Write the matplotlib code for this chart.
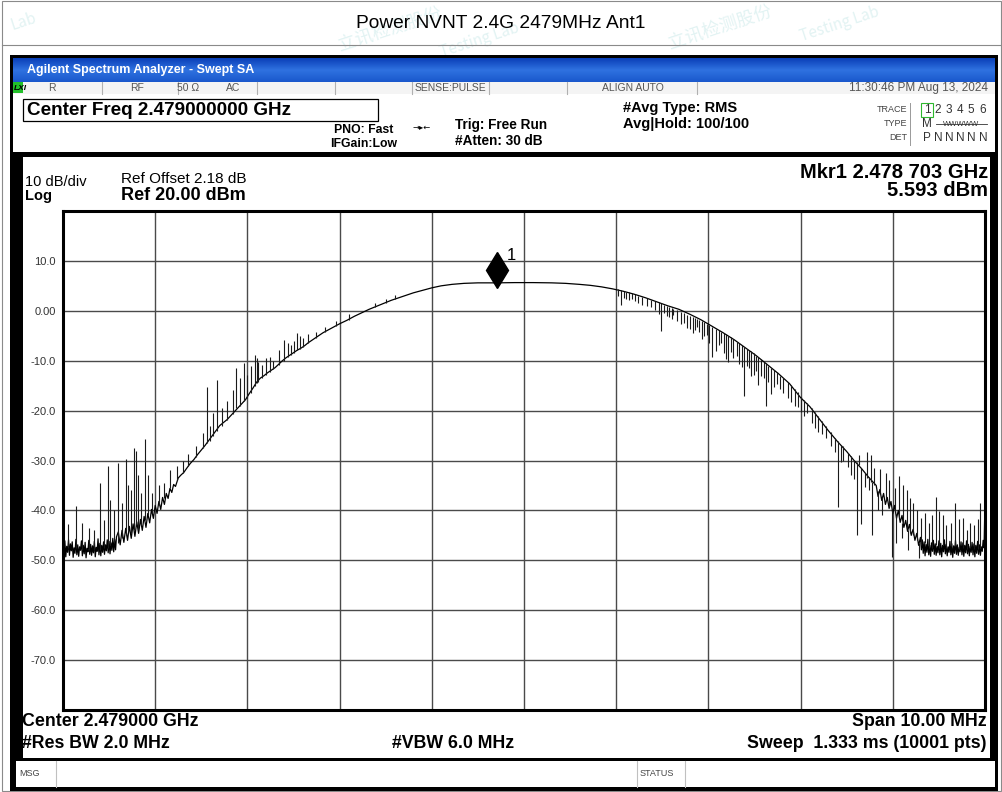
import numpy as np
import matplotlib.pyplot as plt
from matplotlib.patches import Rectangle
from matplotlib import transforms

# ---- data (offset from 2.479 GHz in MHz, level in dBm)
floor_left_f = [-5.00, -4.99, -4.98, -4.97, -4.96, -4.95, -4.94, -4.93, -4.92, -4.91,
                -4.90, -4.89, -4.88, -4.87, -4.86, -4.85, -4.84, -4.83, -4.82, -4.81,
                -4.80, -4.79, -4.78, -4.77, -4.76, -4.75, -4.74, -4.73, -4.72, -4.71,
                -4.70, -4.69, -4.68, -4.67, -4.66, -4.65, -4.64, -4.63, -4.62, -4.61,
                -4.60, -4.59, -4.58, -4.57, -4.56, -4.55, -4.54, -4.53, -4.52, -4.51,
                -4.50, -4.49, -4.48, -4.47, -4.46, -4.45, -4.44, -4.43, -4.42]
floor_left_db = [-46.8, -48.9, -46.1, -49.3, -47.2, -48.4, -45.9, -49.0, -46.7, -48.1,
                 -46.3, -49.4, -47.5, -48.6, -45.8, -48.9, -46.9, -49.2, -47.3, -48.0,
                 -46.1, -49.1, -47.0, -48.7, -46.4, -49.5, -47.6, -48.3, -46.0, -48.8,
                 -46.8, -49.0, -47.1, -48.5, -46.2, -49.3, -47.4, -48.2, -45.7, -48.9,
                 -46.6, -49.1, -47.0, -48.4, -46.3, -48.8, -46.9, -48.1, -45.9, -48.5,
                 -46.2, -48.7, -46.5, -48.0, -45.6, -48.3, -45.8, -47.9, -45.3]

slope_left_f = [-4.40, -4.38, -4.36, -4.34, -4.32, -4.30, -4.28, -4.26, -4.24, -4.22,
                -4.20, -4.18, -4.16, -4.14, -4.12, -4.10, -4.08, -4.06, -4.04, -4.02,
                -4.00, -3.98, -3.96, -3.94, -3.92, -3.90, -3.88, -3.86, -3.84, -3.82,
                -3.80, -3.78, -3.75, -3.72, -3.69, -3.66, -3.62, -3.58, -3.54, -3.50,
                -3.46, -3.42, -3.38, -3.34, -3.30, -3.26, -3.22, -3.18, -3.14, -3.10,
                -3.06, -3.02, -2.98, -2.94, -2.90, -2.86, -2.82, -2.78, -2.74, -2.70,
                -2.66, -2.62, -2.58, -2.54, -2.50, -2.46, -2.42, -2.38, -2.34, -2.30,
                -2.26, -2.22, -2.18, -2.12, -2.06, -2.00, -1.92, -1.84, -1.76, -1.68,
                -1.60, -1.52, -1.44, -1.36, -1.28, -1.20, -1.10, -1.00, -0.90, -0.78,
                -0.65, -0.50]
slope_left_db = [-44.3, -46.9, -44.0, -46.4, -43.6, -46.0, -43.2, -45.6, -42.7, -45.2,
                 -42.3, -44.6, -41.8, -44.0, -41.2, -43.4, -40.6, -42.5, -39.8, -41.6,
                 -39.0, -40.6, -38.2, -39.8, -37.4, -38.8, -36.6, -37.6, -35.6, -36.4,
                 -34.8, -35.2, -33.5, -32.9, -32.4, -31.6, -30.6, -29.8, -28.8, -27.9,
                 -27.0, -26.0, -25.0, -24.0, -23.0, -22.4, -21.8, -21.0, -20.2, -19.4,
                 -18.6, -17.8, -16.6, -15.5, -14.3, -13.5, -13.0, -12.4, -11.9, -11.4,
                 -10.7, -10.0, -9.4, -8.9, -8.4, -7.9, -7.5, -7.0, -6.4, -5.9,
                 -5.4, -4.9, -4.4, -3.8, -3.2, -2.6, -1.9, -1.1, -0.4, 0.3,
                 0.9, 1.5, 2.1, 2.6, 3.1, 3.6, 4.1, 4.6, 5.0, 5.3,
                 5.5, 5.6]

slope_right_f = [-0.30, -0.10, 0.10, 0.30, 0.45, 0.60, 0.72, 0.84, 0.96, 1.08,
                 1.20, 1.32, 1.44, 1.56, 1.68, 1.80, 1.92, 2.04, 2.16, 2.28,
                 2.40, 2.52, 2.64, 2.76, 2.88, 3.00, 3.10, 3.20, 3.30, 3.40,
                 3.50, 3.58, 3.66, 3.74, 3.80, 3.82, 3.84, 3.86, 3.88, 3.90,
                 3.92, 3.94, 3.96, 3.98, 4.00, 4.02, 4.04, 4.06, 4.08, 4.10,
                 4.12, 4.14, 4.16, 4.18, 4.20, 4.22, 4.24, 4.26, 4.28, 4.30]
slope_right_db = [5.6, 5.65, 5.65, 5.6, 5.5, 5.3, 5.1, 4.8, 4.4, 3.9,
                  3.3, 2.6, 1.8, 1.0, 0.3, -0.7, -1.8, -3.1, -4.4, -5.8,
                  -7.4, -9.0, -10.8, -12.6, -14.6, -17.4, -19.2, -21.6, -24.0, -26.2,
                  -28.2, -30.0, -31.6, -33.4, -34.6, -35.0, -37.2, -35.8, -38.0, -36.6,
                  -38.8, -37.4, -39.6, -38.2, -40.6, -39.0, -41.6, -40.0, -42.4, -41.0,
                  -43.4, -42.0, -44.2, -42.8, -45.0, -43.8, -46.0, -44.6, -47.0, -45.4]

floor_right_f = [4.31, 4.32, 4.33, 4.34, 4.35, 4.36, 4.37, 4.38, 4.39, 4.40,
                 4.41, 4.42, 4.43, 4.44, 4.45, 4.46, 4.47, 4.48, 4.49, 4.50,
                 4.51, 4.52, 4.53, 4.54, 4.55, 4.56, 4.57, 4.58, 4.59, 4.60,
                 4.61, 4.62, 4.63, 4.64, 4.65, 4.66, 4.67, 4.68, 4.69, 4.70,
                 4.71, 4.72, 4.73, 4.74, 4.75, 4.76, 4.77, 4.78, 4.79, 4.80,
                 4.81, 4.82, 4.83, 4.84, 4.85, 4.86, 4.87, 4.88, 4.89, 4.90,
                 4.91, 4.92, 4.93, 4.94, 4.95, 4.96, 4.97, 4.98, 4.99, 5.00]
floor_right_db = [-47.9, -45.9, -48.6, -46.3, -49.1, -46.8, -48.4, -45.8, -48.9, -47.0,
                  -49.2, -46.5, -48.2, -46.0, -48.8, -46.7, -49.0, -47.2, -48.5, -46.1,
                  -48.9, -46.6, -49.3, -47.0, -48.3, -45.9, -48.7, -46.8, -49.1, -47.3,
                  -48.4, -46.2, -48.9, -46.7, -49.4, -47.1, -48.6, -46.0, -48.8, -46.9,
                  -49.0, -47.4, -48.3, -46.3, -48.9, -46.5, -49.2, -47.0, -48.5, -46.1,
                  -48.7, -46.8, -49.1, -47.2, -48.4, -46.4, -48.9, -46.7, -49.3, -47.0,
                  -48.6, -46.2, -48.8, -46.9, -49.0, -47.3, -48.2, -46.0, -47.5, -38.0]

# spikes: position, level at the trace, level at the tip
spike_f = [-4.95, -4.86, -4.79, -4.72, -4.66, -4.60, -4.56, -4.51, -4.49, -4.45,
           -4.40, -4.36, -4.32, -4.29, -4.26, -4.23, -4.21, -4.19, -4.15, -4.11,
           -4.08, -4.03, -3.96, -3.90, -3.84, -3.76, -3.70, -3.64, -3.56, -3.48,
           -3.44, -3.41, -3.37, -3.33, -3.28, -3.22, -3.16, -3.12, -3.08, -3.04,
           -3.00, -2.96, -2.92, -2.90, -2.88, -2.84, -2.80, -2.76, -2.72, -2.66,
           -2.60, -2.56, -2.53, -2.50, -2.46, -2.43, -2.40, -2.34, -2.26, -2.16,
           -2.04, -1.90, -1.62, -1.50, -1.40,
           1.02, 1.05, 1.08, 1.11, 1.14, 1.17, 1.20, 1.24, 1.28, 1.33,
           1.38, 1.42, 1.46, 1.49, 1.52, 1.55, 1.57, 1.60, 1.62, 1.66,
           1.70, 1.74, 1.77, 1.80, 1.83, 1.85, 1.88, 1.90, 1.93, 1.95,
           1.98, 2.01, 2.04, 2.08, 2.11, 2.14, 2.17, 2.19, 2.21, 2.24,
           2.27, 2.31, 2.33, 2.36, 2.39, 2.42, 2.44, 2.46, 2.49, 2.52,
           2.54, 2.57, 2.60, 2.62, 2.65, 2.68, 2.71, 2.74, 2.78, 2.81,
           2.86, 2.90, 2.94, 2.97, 3.00, 3.04, 3.07, 3.12, 3.16, 3.19,
           3.23, 3.28, 3.33, 3.37, 3.41, 3.44, 3.46, 3.51, 3.55, 3.58,
           3.61, 3.66, 3.70, 3.74, 3.77, 3.84, 3.88, 3.99, 4.04, 4.10,
           4.17, 4.28,
           3.63, 3.72, 3.76, 3.80, 3.86, 3.93, 3.96, 4.02, 4.07, 4.11,
           4.15, 4.19, 4.22, 4.26, 4.31, 4.35, 4.39, 4.43, 4.47, 4.50,
           4.54, 4.58, 4.63, 4.68, 4.72, 4.76, 4.80, 4.84, 4.88, 4.92,
           4.95]
spike_base = [-47.5, -47.5, -48.0, -48.0, -48.0, -48.0, -47.5, -47.5, -47.0, -46.5,
              -46.5, -45.5, -45.0, -44.0, -44.5, -44.0, -43.0, -44.0, -43.0, -42.0,
              -41.0, -40.5, -39.0, -37.5, -35.6, -34.0, -32.5, -31.2, -29.3, -27.5,
              -26.5, -26.0, -25.0, -24.0, -23.0, -21.8, -20.6, -19.5, -19.0, -18.0,
              -17.4, -16.4, -15.0, -14.5, -14.2, -13.4, -12.8, -12.2, -11.7, -10.8,
              -10.0, -9.2, -8.9, -8.4, -7.9, -7.6, -7.3, -6.4, -5.4, -4.3,
              -3.0, -1.8, 0.7, 1.6, 2.3,
              4.4, 4.2, 3.9, 3.8, 3.7, 3.5, 3.3, 3.0, 2.8, 2.5,
              2.2, 1.9, 1.7, 1.5, 1.2, 0.9, 0.8, 0.6, 0.4, 0.1,
              -0.2, -0.5, -0.8, -1.0, -1.2, -1.4, -1.6, -1.8, -2.1, -2.3,
              -2.6, -2.9, -3.2, -3.6, -3.9, -4.2, -4.5, -4.7, -5.0, -5.3,
              -5.7, -6.2, -6.5, -6.8, -7.2, -7.6, -7.8, -8.1, -8.5, -9.0,
              -9.3, -9.6, -10.2, -10.5, -11.0, -11.4, -11.9, -12.3, -13.0, -13.4,
              -14.2, -14.9, -15.6, -16.2, -17.2, -17.8, -18.4, -19.5, -20.3, -21.0,
              -22.0, -23.0, -24.2, -25.4, -26.0, -26.8, -27.0, -28.4, -29.0, -30.0,
              -30.4, -31.6, -32.6, -33.4, -34.4, -36.2, -37.4, -40.0, -41.0, -42.5,
              -44.0, -46.5,
              -31.0, -33.5, -34.3, -35.0, -36.6, -38.0, -39.4, -40.4, -41.5, -42.5,
              -43.6, -44.5, -45.0, -46.0, -47.0, -46.5, -47.5, -47.6, -47.0, -47.6,
              -47.0, -47.6, -47.2, -47.2, -47.7, -47.5, -47.7, -47.6, -47.7, -47.8,
              -47.6]
spike_tip = [-42.8, -39.2, -42.5, -43.5, -44.0, -34.6, -42.0, -31.2, -38.0, -40.0,
             -30.6, -38.5, -29.6, -35.0, -36.0, -27.4, -28.0, -33.0, -36.5, -25.6,
             -33.0, -36.5, -35.0, -34.5, -32.0, -31.2, -30.0, -28.6, -27.0, -24.5,
             -15.3, -23.0, -20.5, -13.9, -19.5, -18.0, -15.8, -11.5, -13.5, -10.5,
             -12.8, -11.0, -8.9, -9.5, -10.3, -10.8, -9.5, -9.2, -10.0, -7.8,
             -5.9, -6.5, -6.8, -6.0, -4.5, -5.0, -5.4, -4.6, -4.2, -3.2,
             -2.0, -0.6, 1.6, 2.4, 3.2,
             3.0, 1.1, 2.6, 2.4, 2.2, 2.3, 2.0, 1.6, 1.2, 1.0,
             0.8, 0.2, -0.6, -4.1, -0.5, -1.0, -1.2, -1.6, -0.8, -2.0,
             -2.6, -2.4, -3.5, -3.6, -4.4, -3.8, -3.2, -4.2, -5.6, -5.0,
             -4.8, -6.5, -9.3, -8.0, -6.8, -6.5, -8.4, -9.6, -10.3, -8.2,
             -9.5, -9.0, -10.6, -11.2, -17.0, -11.0, -11.5, -13.0, -12.8, -12.0,
             -14.8, -13.0, -13.4, -19.0, -14.2, -16.6, -15.2, -14.6, -15.6, -16.5,
             -17.4, -18.2, -19.0, -19.2, -20.2, -21.0, -20.4, -22.5, -23.4, -24.2,
             -24.6, -25.4, -27.0, -28.2, -39.4, -30.3, -30.0, -31.4, -33.0, -33.8,
             -45.0, -42.7, -35.4, -36.0, -45.0, -40.0, -41.0, -49.3, -46.5, -45.5,
             -48.0, -49.6,
             -28.8, -28.2, -28.8, -31.5, -31.8, -32.6, -34.0, -35.5, -33.2, -35.0,
             -36.0, -37.5, -38.5, -40.0, -41.5, -40.5, -42.5, -41.0, -37.3, -40.2,
             -41.0, -43.0, -42.5, -38.6, -41.8, -41.5, -44.0, -42.5, -43.0, -41.8,
             -38.6]

mkr_f = -0.297
mkr_db = 5.593
y_ticks = [10, 0, -10, -20, -30, -40, -50, -60, -70]
y_labels = ['10.0', '0.00', '-10.0', '-20.0', '-30.0', '-40.0', '-50.0', '-60.0', '-70.0']

trace_f = floor_left_f + slope_left_f + slope_right_f + floor_right_f
trace_db = floor_left_db + slope_left_db + slope_right_db + floor_right_db

W, H = 1003, 792
plt.rcParams['font.family'] = 'Liberation Sans'

fig = plt.figure(figsize=(W / 100, H / 100), dpi=100)
bg = fig.add_axes([0, 0, 1, 1])
bg.set_xlim(0, W)
bg.set_ylim(H, 0)
bg.axis('off')


def box(x0, y0, x1, y1, fc='white', ec='none', lw=0, z=1):
    bg.add_patch(Rectangle((x0, y0), x1 - x0, y1 - y0, fc=fc, ec=ec, lw=lw, zorder=z))


def txt(x, y, s, size=9, ha='left', weight='normal', color='black', **kw):
    bg.text(x, y, s, fontsize=size, ha=ha, va='center', fontweight=weight,
            color=color, **kw)


# outer page frame and title
box(2, 1, 1001, 791, fc='white', ec='#8a8a8a', lw=0.8, z=0)
bg.plot([2, 1001], [45, 45], color='#8a8a8a', lw=0.8)
txt(501, 24, 'Power NVNT 2.4G 2479MHz Ant1', size=13.8, ha='center')

# faint watermark
wm = dict(family=['Noto Sans CJK SC', 'DejaVu Sans'], color='#7cc8c8', alpha=0.22,
          rotation=18, ha='center', va='center', zorder=0.5)
for x, y in [(390, 30), (720, 28)]:
    bg.text(x, y, '立讯检测股份', fontsize=13, **wm)
for x, y in [(480, 40), (840, 24)]:
    bg.text(x, y, 'Testing Lab', fontsize=11, **wm)
bg.text(24, 22, 'Lab', fontsize=11, **wm)

# analyzer screen
box(10, 55, 998, 791, fc='black', z=1)
grad = np.linspace(0, 1, 50).reshape(-1, 1)
bg.imshow(grad, extent=(13, 995, 82, 58), aspect='auto', zorder=2,
          cmap=plt.matplotlib.colors.LinearSegmentedColormap.from_list(
              'xp', ['#0a3fb8', '#2f72e0', '#1a58cc']))
txt(27, 70, 'Agilent Spectrum Analyzer - Swept SA', size=9, weight='bold',
    color='white', zorder=3)

box(13, 82, 995, 94, fc='#f4f4f4', z=2)
for x in [102, 178, 257, 335, 412, 489, 567, 697]:
    bg.plot([x, x], [82, 94], color='#b0b0b0', lw=0.8, zorder=3)
box(13, 82, 23, 93, fc='#22c02a', z=3)
txt(14, 88, 'LXI', size=6, weight='bold', style='italic', zorder=4)
st = dict(size=7.5, color='#555555', zorder=4)
txt(48, 88, 'R', **st)
txt(137, 88, 'RF', ha='center', **st)
txt(188, 88, '50 Ω', ha='center', **st)
txt(233, 88, 'AC', ha='center', **st)
txt(450, 88, 'SENSE:PULSE', ha='center', **st)
txt(633, 88, 'ALIGN AUTO', ha='center', **st)
txt(988, 88, '11:30:46 PM Aug 13, 2024', ha='right', size=8.5, color='#555555', zorder=4)

box(13, 94, 995, 152, fc='white', z=2)
box(23, 99, 378, 121, fc='white', ec='black', lw=0.9, z=3)
txt(27, 110.5, 'Center Freq 2.479000000 GHz', size=13.6, weight='bold', zorder=4)
txt(364, 130, 'PNO: Fast', size=8.8, weight='bold', ha='center', zorder=4)
txt(364, 144, 'IFGain:Low', size=8.8, weight='bold', ha='center', zorder=4)
txt(422, 128, '→▸←', size=6, ha='center', zorder=4, family='DejaVu Sans')
txt(455, 125, 'Trig: Free Run', size=9.8, weight='bold', zorder=4)
txt(455, 141, '#Atten: 30 dB', size=9.8, weight='bold', zorder=4)
txt(623, 108, '#Avg Type: RMS', size=10.5, weight='bold', zorder=4)
txt(623, 124, 'Avg|Hold: 100/100', size=10.5, weight='bold', zorder=4)
ts = dict(size=6.5, color='#444444', zorder=4)
txt(907, 110, 'TRACE', ha='right', **ts)
txt(907, 124, 'TYPE', ha='right', **ts)
txt(907, 138, 'DET', ha='right', **ts)
bg.plot([910, 910], [103, 145], color='#999999', lw=0.7, zorder=4)
trace_cols = [927, 938, 949, 960, 971, 983]
box(921, 103, 933, 117, fc='none', ec='#2db82d', lw=0.8, z=4)
for i, x in enumerate(trace_cols):
    txt(x, 110, str(i + 1), ha='center', size=8.5, color='#333333', zorder=5)
    txt(x, 138, 'P' if i == 0 else 'N', ha='center', size=8.5, color='#333333', zorder=5)
txt(927, 124, 'M', ha='center', size=8.5, color='#333333', zorder=5)
txt(961, 124, 'WWWWW', ha='center', size=5.5, color='#333333', zorder=5)
bg.plot([936, 987], [124, 124], color='#333333', lw=0.6, zorder=6)

# display area
box(23, 157, 990, 758, fc='white', z=2)
txt(988, 172, 'Mkr1 2.478 703 GHz', size=14.5, weight='bold', ha='right', zorder=4)
txt(988, 190, '5.593 dBm', size=14.5, weight='bold', ha='right', zorder=4)
txt(121, 179, 'Ref Offset 2.18 dB', size=11, zorder=4)
txt(121, 196, 'Ref 20.00 dBm', size=13, weight='bold', zorder=4)
txt(25, 182, '10 dB/div', size=10.5, zorder=4)
txt(25, 196, 'Log', size=10.5, weight='bold', zorder=4)

bt = dict(size=12.8, weight='bold', zorder=4)
txt(22, 722, 'Center 2.479000 GHz', **bt)
txt(22, 744, '#Res BW 2.0 MHz', **bt)
txt(453, 744, '#VBW 6.0 MHz', ha='center', **bt)
txt(987, 722, 'Span 10.00 MHz', ha='right', **bt)
txt(987, 744, 'Sweep  1.333 ms (10001 pts)', ha='right', **bt)

box(16, 761, 995, 787, fc='white', z=2)
for x in [56, 637, 685]:
    bg.plot([x, x], [761, 787], color='#c0c0c0', lw=0.8, zorder=3)
txt(19, 773, 'MSG', size=6.5, color='#444444', zorder=4)
txt(640, 773, 'STATUS', size=6.5, color='#444444', zorder=4)

# trace plot
ax = fig.add_axes([63 / W, 1 - 710 / H, 922 / W, 499 / H])
ax.set_xlim(-5, 5)
ax.set_ylim(-80, 20)
ax.set_xticks(np.arange(-4, 5, 1))
ax.set_yticks(y_ticks)
ax.set_yticklabels(y_labels, fontsize=8, color='#333333')
ax.set_xticklabels([])
ax.tick_params(length=0, pad=5)
ax.grid(True, color='#4a4a4a', lw=1.0)
for sp in ax.spines.values():
    sp.set_linewidth(2.2)
    sp.set_color('black')

ax.plot(trace_f, trace_db, color='black', lw=0.9, zorder=3)
ax.vlines(spike_f, spike_base, spike_tip, color='#1a1a1a', lw=0.8, zorder=3)

off = transforms.offset_copy(ax.transData, fig=fig, x=0, y=9.5, units='points')
ax.plot(mkr_f, mkr_db, marker='d', markersize=18, color='black', transform=off,
        zorder=4, clip_on=False)
ax.annotate('1', (mkr_f, mkr_db), xytext=(7, 20), textcoords='offset points',
            fontsize=12, ha='left', va='center')

fig.savefig('out.png', dpi=100)
